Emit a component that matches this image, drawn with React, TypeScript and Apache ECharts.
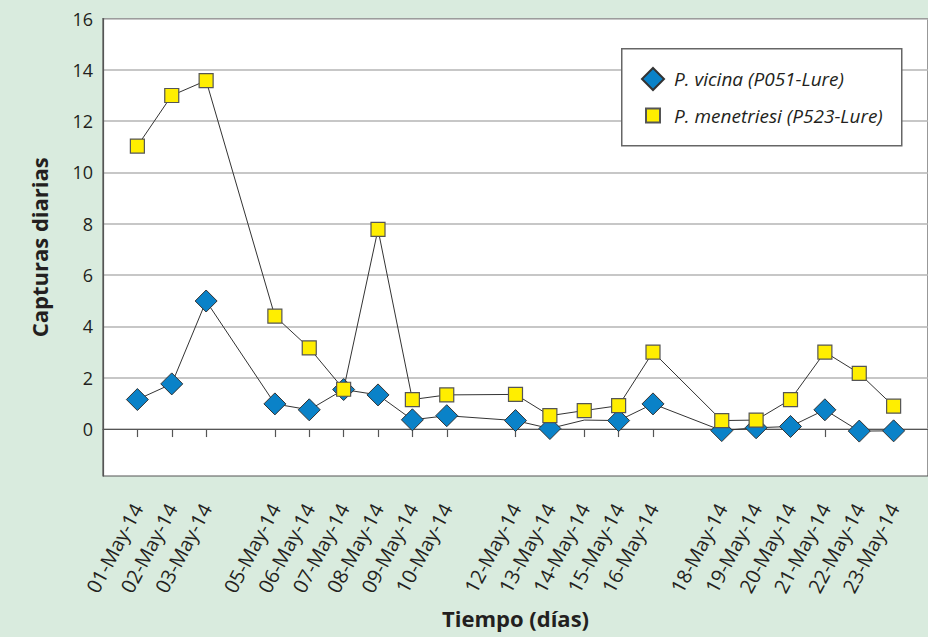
import React, { useEffect, useRef } from 'react';
import * as echarts from 'echarts';

// ---- Data ----
const dateLabels = [
  '01-May-14', '02-May-14', '03-May-14', '05-May-14', '06-May-14', '07-May-14',
  '08-May-14', '09-May-14', '10-May-14', '12-May-14', '13-May-14', '14-May-14',
  '15-May-14', '16-May-14', '18-May-14', '19-May-14', '20-May-14', '21-May-14',
  '22-May-14', '23-May-14',
];

const vicinaValues = [
  1.15, 1.76, 4.99, 0.98, 0.75, 1.54, 1.33, 0.36, 0.52, 0.33, 0.02, 0.35,
  0.33, 0.98, -0.06, 0.05, 0.1, 0.75, -0.08, -0.07,
];

const menetriesiValues = [
  11.03, 13.0, 13.58, 4.4, 3.16, 1.55, 7.78, 1.15, 1.33, 1.35, 0.52, 0.72,
  0.91, 3.0, 0.33, 0.35, 1.15, 3.0, 2.17, 0.89,
];

// dates on which the P. vicina point has no marker in the original
const vicinaNoMarkerDates = ['14-May-14'];

const seriesNames = ['P. vicina (P051-Lure)', 'P. menetriesi (P523-Lure)'];
const yTickValues = [0, 2, 4, 6, 8, 10, 12, 14, 16];
const yTitle = 'Capturas diarias';
const xTitle = 'Tiempo (días)';

const FONT = "'Open Sans', 'Noto Sans', sans-serif";

export default function App() {
  const ref = useRef<HTMLDivElement>(null);

  useEffect(() => {
    if (!ref.current) return;
    const chart = echarts.init(ref.current, null, { renderer: 'svg' });

    const dayNums = dateLabels.map((d) => parseInt(d.slice(0, 2), 10));
    const labelFor = (v: number) => {
      const i = dayNums.indexOf(Math.round(v));
      return i >= 0 ? dateLabels[i] : '';
    };

    const vicinaData = dateLabels.map((d, i) => {
      const item: any = { value: [dayNums[i], vicinaValues[i]] };
      if (vicinaNoMarkerDates.includes(d)) item.symbol = 'none';
      return item;
    });
    const menetriesiData = dateLabels.map((d, i) => [dayNums[i], menetriesiValues[i]]);

    const legendText = {
      fontFamily: FONT,
      fontStyle: 'italic',
      fontSize: 19,
      color: '#231f20',
    };

    const option: any = {
      animation: false,
      backgroundColor: '#d9ebde',
      textStyle: { fontFamily: FONT },
      grid: {
        left: 103,
        top: 18.5,
        right: -5,
        bottom: 161,
        show: true,
        backgroundColor: '#ffffff',
        borderColor: '#555555',
        borderWidth: 1.2,
      },
      legend: [
        {
          data: [{ name: seriesNames[0], icon: 'diamond' }],
          left: 641,
          top: 67,
          padding: 0,
          itemWidth: 22,
          itemHeight: 22,
          selectedMode: false,
          z: 10,
          textStyle: { ...legendText, padding: [0, 0, 0, 5] },
        },
        {
          data: [{ name: seriesNames[1], icon: 'rect' }],
          left: 645,
          top: 106,
          padding: 0,
          itemWidth: 14,
          itemHeight: 14,
          selectedMode: false,
          z: 10,
          textStyle: { ...legendText, padding: [0, 0, 0, 9] },
        },
      ],
      graphic: [
        {
          type: 'rect',
          left: 621,
          top: 48,
          z: 8,
          shape: { width: 280, height: 97 },
          style: { fill: '#ffffff', stroke: '#666666', lineWidth: 1.5 },
        },
      ],
      xAxis: {
        type: 'value',
        min: 0,
        max: 24,
        name: xTitle,
        nameLocation: 'middle',
        nameGap: 131,
        nameTextStyle: { fontFamily: FONT, fontWeight: 'bold', fontSize: 22, color: '#231f20' },
        axisLine: { show: true, lineStyle: { color: '#555555', width: 1.2 } },
        axisTick: {
          show: true,
          inside: false,
          length: 8,
          customValues: dayNums,
          lineStyle: { color: '#555555', width: 1.2 },
        },
        axisLabel: {
          customValues: dayNums,
          rotate: 62,
          margin: 29,
          fontSize: 20,
          color: '#231f20',
          fontFamily: FONT,
          formatter: (v: number) => labelFor(v),
        },
        splitLine: { show: false },
      },
      yAxis: {
        type: 'value',
        min: -1.83,
        max: 16,
        name: yTitle,
        nameLocation: 'middle',
        nameGap: 53,
        nameTextStyle: { fontFamily: FONT, fontWeight: 'bold', fontSize: 22, color: '#231f20' },
        axisLine: { show: true, lineStyle: { color: '#555555', width: 1.2 } },
        axisTick: { show: false, customValues: yTickValues },
        axisLabel: {
          customValues: yTickValues,
          margin: 10,
          fontSize: 18,
          color: '#231f20',
          fontFamily: FONT,
          formatter: (v: number) => String(v),
        },
        splitLine: { show: true, lineStyle: { color: '#b5b5b5', width: 1.5 } },
      },
      series: [
        {
          name: seriesNames[0],
          type: 'line',
          data: vicinaData,
          symbol: 'diamond',
          symbolSize: 22,
          z: 2,
          lineStyle: { color: '#333333', width: 1 },
          itemStyle: { color: '#0a82c8', borderColor: '#333333', borderWidth: 1 },
          emphasis: { disabled: true },
        },
        {
          name: seriesNames[1],
          type: 'line',
          data: menetriesiData,
          symbol: 'rect',
          symbolSize: 14,
          z: 3,
          lineStyle: { color: '#333333', width: 1 },
          itemStyle: { color: '#ffee00', borderColor: '#555555', borderWidth: 1.2 },
          emphasis: { disabled: true },
        },
      ],
    };

    chart.setOption(option);
    return () => chart.dispose();
  }, []);

  return (
    <div
      ref={ref}
      style={{ position: 'fixed', left: 0, top: 0, width: 928, height: 637, background: '#d9ebde' }}
    />
  );
}
